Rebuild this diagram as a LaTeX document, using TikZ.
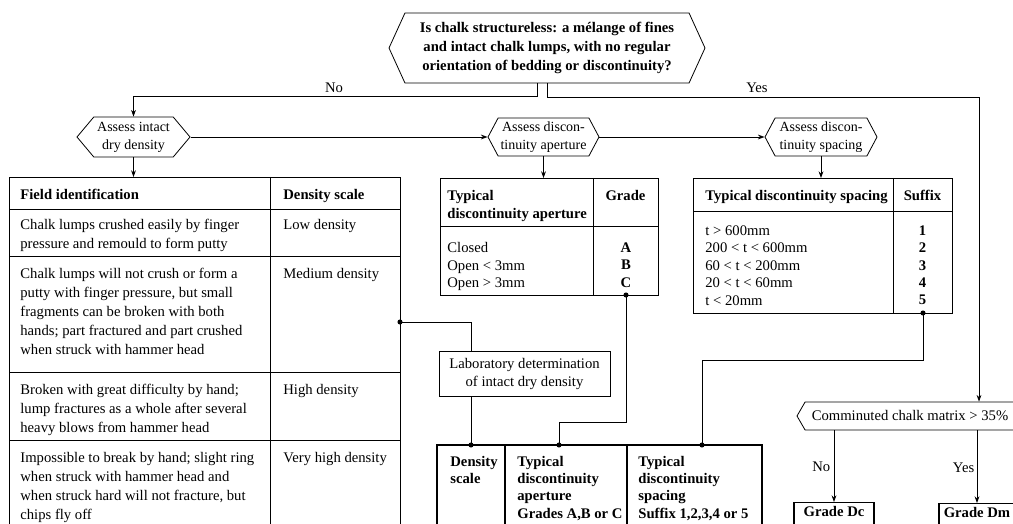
\documentclass[tikz,border=0pt]{standalone}
\usepackage{fontspec}
\setmainfont{Liberation Serif}
\usetikzlibrary{shapes.symbols,arrows.meta,calc}

\begin{document}
\begin{tikzpicture}[
    x=0.75pt, y=-0.75pt,
    line width=0.6pt,
    font=\fontsize{11}{14.25}\selectfont,
    freccia/.style={-{Stealth[length=5pt,width=3.6pt]}},
    esagono/.style={draw, signal, signal to=east and west, signal pointer angle=#1,
                    align=center, inner sep=1pt, font=\fontsize{10.5}{13.5}\selectfont},
    tabella/.style={draw, anchor=north west, inner sep=0pt, outer sep=0pt},
    cella/.style={anchor=north west, inner sep=0pt, align=left},
    cifra/.style={anchor=north, inner sep=0pt, align=center,
                  font=\fontsize{11}{13.1}\selectfont\bfseries},
    grado/.style={draw, thick, anchor=north, inner ysep=3pt, text depth=25pt,
                  font=\fontsize{11}{14}\selectfont\bfseries}]

  \useasboundingbox (0,0) rectangle (1013,524);
  \clip (0,0) rectangle (1013,524);
  \fill[white] (0,0) rectangle (1013,524);

  % ---- la domanda iniziale e i tre esagoni -----------------------------------
  \node[esagono=131, minimum width=237pt, minimum height=52.5pt,
        font=\fontsize{11}{14.5}\selectfont\bfseries] (Q) at (547,48)
    {Is chalk structureless: a mélange of fines\\and intact chalk lumps, with no regular\\orientation of bedding or discontinuity?};
  \node[esagono=100, minimum width=84.75pt, minimum height=30pt] (A) at (133.5,137)
    {Assess intact\\dry density};
  \node[esagono=124, minimum width=83.25pt, minimum height=28.5pt] (B) at (543.5,137)
    {Assess discon-\\tinuity aperture};
  \node[esagono=124, minimum width=84pt, minimum height=28.5pt] (S) at (821,137)
    {Assess discon-\\tinuity spacing};
  \node[esagono=120, minimum width=169.5pt, minimum height=21pt,
        font=\fontsize{11}{13}\selectfont] (C) at (910,416)
    {Comminuted chalk matrix > 35\%};

  % ---- No / Yes -----------------------------------------------------------------
  \coordinate (svolta) at (979,97);
  \draw[freccia] ($(Q.south)+(-10,0)$) |- ($(A.north)+(0,-20)$) -- (A.north);
  \draw[freccia] (Q.south) |- (svolta) -- (svolta |- C.north);
  \node[inner sep=1pt] (no1) at (334,88) {No};
  \node[inner sep=1pt] (yes1) at (757,88) {Yes};
  \draw[freccia] (A.east) -- (B.west);
  \draw[freccia] (B.east) -- (S.west);

  % ---- tabella 1: densita' ------------------------------------------------------
  \node[tabella, minimum width=293.25pt, minimum height=287.25pt] (tab1) at (9,177) {};
  \draw (270,177) -- (270,560);
  \foreach \y in {209,256,372,440} \draw (9,\y) -- (400,\y);
  \node[cella, font=\fontsize{11}{14}\selectfont\bfseries] (h11) at (20,189) {Field identification};
  \node[cella, font=\fontsize{11}{14}\selectfont\bfseries] (h12) at (283,189) {Density scale};
  \node[cella] (r1) at (20,219) {Chalk lumps crushed easily by finger\\pressure and remould to form putty};
  \node[cella] (r2) at (20,268) {Chalk lumps will not crush or form a\\putty with finger pressure, but small\\fragments can be broken with both\\hands; part fractured and part crushed\\when struck with hammer head};
  \node[cella] (r3) at (20,384) {Broken with great difficulty by hand;\\lump fractures as a whole after several\\heavy blows from hammer head};
  \node[cella] (r4) at (20,452) {Impossible to break by hand; slight ring\\when struck with hammer head and\\when struck hard will not fracture, but\\chips fly off};
  \foreach \y/\dens in {219/Low density, 268/Medium density, 384/High density, 452/Very high density}
    \node[cella] (dens\y) at (283,\y) {\dens};

  % ---- tabella 2: apertura --------------------------------------------------------
  \node[tabella, minimum width=163.5pt, minimum height=87.75pt] (tab2) at (440,178) {};
  \draw (593,178) -- (593,295);
  \draw (440,226) -- (658,226);
  \node[cella, font=\fontsize{11}{13.5}\selectfont\bfseries] (h21) at (447,190) {Typical\\discontinuity aperture};
  \node[cifra] (h22) at (625.5,190) {Grade};
  \node[cella, font=\fontsize{11}{13.1}\selectfont] (ap) at (447,242) {Closed\\Open < 3mm\\Open > 3mm};
  \node[cifra] (gr) at (626,242) {A\\B\\C};

  % ---- tabella 3: spaziatura ------------------------------------------------------
  \node[tabella, minimum width=194.25pt, minimum height=101.25pt] (tab3) at (693,178) {};
  \draw (893,178) -- (893,313);
  \draw (693,211) -- (952,211);
  \node[cella, font=\fontsize{11}{14}\selectfont\bfseries] (h31) at (705,190) {Typical discontinuity spacing};
  \node[cifra] (h32) at (922.5,190) {Suffix};
  \node[cella, font=\fontsize{11}{13.1}\selectfont] (sp) at (705,225)
    {t > 600mm\\200 < t < 600mm\\60 < t < 200mm\\20 < t < 60mm\\t < 20mm};
  \node[cifra] (suf) at (922.5,225) {1\\2\\3\\4\\5};

  % ---- laboratorio e tabella finale ---------------------------------------------
  \node[draw, minimum width=128.25pt, minimum height=33.75pt, align=center,
        font=\fontsize{11}{13.5}\selectfont] (lab) at (524.5,373.5)
    {Laboratory determination\\of intact dry density};
  \node[tabella, thick, minimum width=243.75pt, minimum height=90pt] (tabfin) at (437,445) {};
  \foreach \x in {505,627} \draw[thick] (\x,445) -- (\x,560);
  \node[cella, font=\fontsize{11}{12.9}\selectfont\bfseries] (f1) at (450,456) {Density\\scale};
  \node[cella, font=\fontsize{11}{12.9}\selectfont\bfseries] (f2) at (517,456) {Typical\\discontinuity\\aperture\\Grades A,B or C};
  \node[cella, font=\fontsize{11}{12.9}\selectfont\bfseries] (f3) at (638,456) {Typical\\discontinuity\\spacing\\Suffix 1,2,3,4 or 5};

  % ---- collegamenti con i punti -------------------------------------------------
  \coordinate (dD) at (400,322);
  \coordinate (dA) at (626,295);
  \coordinate (dS) at (923,313);
  \coordinate (bD) at (471,445);
  \coordinate (bA) at (559,445);
  \coordinate (bS) at (702,445);
  \draw[freccia] (A.south) -- (A.south |- tab1.north);
  \draw[freccia] (B.south) -- (B.south |- tab2.north);
  \draw[freccia] (S.south) -- (S.south |- tab3.north);
  \draw (dD) -| (bD |- lab.north);
  \draw (lab.south -| bD) -- (bD);
  \draw (dA) |- ($(bA)+(0,-23)$) -- (bA);
  \draw (dS) |- ($(bS)+(0,-85)$) -- (bS);
  \foreach \p in {dD,dA,dS,bD,bA,bS} \fill (\p) circle (1.9pt);

  % ---- esito finale ---------------------------------------------------------------
  \node[grado, minimum width=60pt] (Dc) at (834,502) {Grade Dc};
  \node[grado, minimum width=57pt] (Dm) at (977,503) {Grade Dm};
  \draw[freccia] (C.south -| Dc.north) -- (Dc.north);
  \draw[freccia] (C.south -| Dm.north) -- (Dm.north);
  \node[anchor=east, inner sep=1pt] (no2) at (832,467) {No};
  \node[anchor=east, inner sep=1pt] (yes2) at (976,468) {Yes};

\end{tikzpicture}
\end{document}
